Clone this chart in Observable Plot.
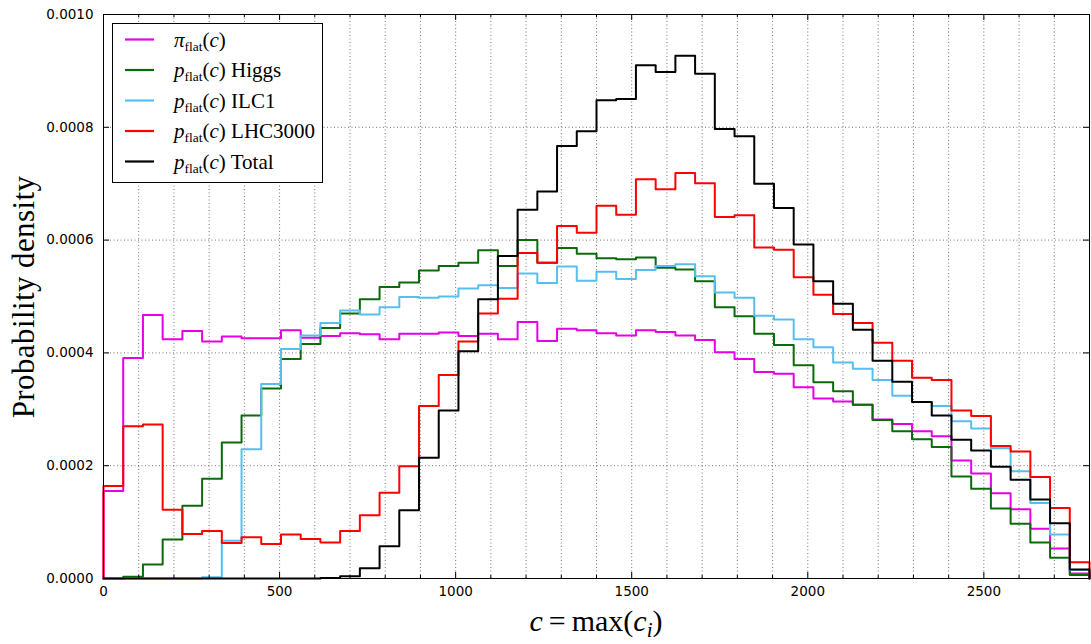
<!DOCTYPE html>
<html><head><meta charset="utf-8">
<script src="https://cdn.jsdelivr.net/npm/d3@7"></script>
<script src="https://cdn.jsdelivr.net/npm/@observablehq/plot@0.6"></script>
<style>body{margin:0;background:#fff} #chart svg{display:block}</style>
</head><body><div id="chart"></div>
<script>
// ---- data: 50 bins of width 56 over c = 0..2800 ----
const xMax = 2800;
const prior = [0.000155,0.000391,0.000467,0.000424,0.000439,0.000420,0.000429,0.000426,0.000426,0.000440,
  0.000427,0.000430,0.000435,0.000433,0.000424,0.000434,0.000434,0.000436,0.000430,0.000434,
  0.000424,0.000455,0.000421,0.000443,0.000440,0.000435,0.000431,0.000440,0.000437,0.000431,
  0.000423,0.000401,0.000389,0.000366,0.000363,0.000339,0.000319,0.000314,0.000308,0.000282,
  0.000274,0.000261,0.000252,0.000209,0.000186,0.000151,0.000123,0.000088,0.000053,0.000009];
const higgs = [0,0.000003,0.000025,0.000069,0.000129,0.000177,0.000241,0.000289,0.000337,0.000389,
  0.000416,0.000444,0.000470,0.000495,0.000517,0.000525,0.000546,0.000554,0.000560,0.000582,
  0.000554,0.000600,0.000560,0.000586,0.000576,0.000568,0.000566,0.000569,0.000551,0.000548,
  0.000527,0.000481,0.000465,0.000434,0.000414,0.000378,0.000348,0.000332,0.000308,0.000281,
  0.000261,0.000247,0.000233,0.000181,0.000159,0.000124,0.000097,0.000064,0.000037,0.000006];
const ilc1 = [0,0,0,0,0,0.000002,0.000067,0.000229,0.000345,0.000407,
  0.000431,0.000453,0.000475,0.000468,0.000481,0.000499,0.000498,0.000500,0.000514,0.000520,
  0.000515,0.000541,0.000524,0.000553,0.000528,0.000544,0.000531,0.000547,0.000554,0.000557,
  0.000536,0.000507,0.000498,0.000466,0.000459,0.000424,0.000410,0.000383,0.000372,0.000352,
  0.000324,0.000313,0.000306,0.000279,0.000266,0.000231,0.000190,0.000134,0.000078,0.000015];
const lhc3000 = [0.000164,0.000270,0.000273,0.000122,0.000079,0.000084,0.000063,0.000073,0.000061,0.000078,
  0.000070,0.000064,0.000084,0.000112,0.000152,0.000199,0.000306,0.000361,0.000420,0.000470,
  0.000496,0.000577,0.000560,0.000625,0.000613,0.000661,0.000645,0.000708,0.000690,0.000719,
  0.000701,0.000641,0.000644,0.000587,0.000583,0.000534,0.000503,0.000469,0.000453,0.000418,
  0.000386,0.000356,0.000352,0.000298,0.000288,0.000235,0.000225,0.000180,0.000125,0.000029];
const total = [0,0,0,0,0,0,0,0,0,0,
  0,0.000001,0.000004,0.000018,0.000057,0.000121,0.000214,0.000298,0.000403,0.000495,
  0.000572,0.000654,0.000686,0.000767,0.000793,0.000848,0.000850,0.000910,0.000898,0.000927,
  0.000895,0.000797,0.000784,0.000700,0.000657,0.000592,0.000527,0.000487,0.000441,0.000386,
  0.000349,0.000313,0.000289,0.000246,0.000227,0.000198,0.000175,0.000140,0.000098,0.000016];

const seriesValues = [prior, higgs, ilc1, lhc3000, total];
const seriesColors = ["#e600e6", "#0b6b0b", "#55c0f0", "#ff0000", "#000000"];
const seriesSymbols = ["π", "p", "p", "p", "p"];
const seriesSuffixes = ["", " Higgs", " ILC1", " LHC3000", " Total"];

const xMajorTicks = [0, 500, 1000, 1500, 2000, 2500];
const xMinorTicks = [100,200,300,400,600,700,800,900,1100,1200,1300,1400,1600,1700,1800,1900,2100,2200,2300,2400,2600,2700];
const xGridTicks = [100,200,300,400,500,600,700,800,900,1000,1100,1200,1300,1400,1500,1600,1700,1800,1900,2000,2100,2200,2300,2400,2500,2600,2700];
const yTicks = [0, 0.0002, 0.0004, 0.0006, 0.0008, 0.0010];
const yGridTicks = [0.0002, 0.0004, 0.0006, 0.0008];

// ---- layout ----
const W = 1091, H = 644, mL = 103, mR = 2, mT = 14, mB = 66;
const innerW = W - mL - mR, innerH = H - mT - mB;

function steps(values) {
  const w = xMax / values.length;
  const pts = [{x: 0, y: 0}];
  values.forEach((v, i) => pts.push({x: i * w, y: v}));
  pts.push({x: xMax, y: values[values.length - 1]});
  pts.push({x: xMax, y: 0});
  return pts;
}

const grid = {stroke: "#000", strokeOpacity: 0.55, strokeDasharray: "1,2.5", strokeWidth: 1};

const svg = Plot.plot({
  width: W, height: H,
  marginLeft: mL, marginRight: mR, marginTop: mT, marginBottom: mB,
  x: {domain: [0, xMax]},
  y: {domain: [0, 0.001]},
  style: {fontFamily: "'DejaVu Sans', sans-serif", fontSize: "13.5px", background: "#fff", color: "#000"},
  marks: [
    Plot.gridX(xGridTicks, grid),
    Plot.gridY(yGridTicks, grid),
    ...seriesValues.map((vals, i) =>
      Plot.line(steps(vals), {x: "x", y: "y", curve: "step-after", stroke: seriesColors[i], strokeWidth: 2})),
    Plot.frame({stroke: "#000", strokeWidth: 1}),
    Plot.tickX(xMajorTicks, {x: d => d, insetTop: innerH - 6, stroke: "#000"}),
    Plot.tickX(xMajorTicks, {x: d => d, insetBottom: innerH - 6, stroke: "#000"}),
    Plot.tickX(xMinorTicks, {x: d => d, insetTop: innerH - 3, stroke: "#000"}),
    Plot.tickX(xMinorTicks, {x: d => d, insetBottom: innerH - 3, stroke: "#000"}),
    Plot.tickY(yTicks, {y: d => d, insetRight: innerW - 6, stroke: "#000"}),
    Plot.tickY(yTicks, {y: d => d, insetLeft: innerW - 6, stroke: "#000"}),
    Plot.axisX(xMajorTicks, {tickSize: 0, tickPadding: 8, tickFormat: d => String(d), label: null}),
    Plot.axisY(yTicks, {tickSize: 0, tickPadding: 10, tickFormat: d => d.toFixed(4), label: null})
  ]
});

const root = d3.select(svg);
const serif = "'Liberation Serif', 'Times New Roman', serif";

// y label
root.append("text")
  .attr("transform", "translate(34,297) rotate(-90)")
  .attr("text-anchor", "middle")
  .attr("font-family", serif).attr("font-size", 31).attr("letter-spacing", 0.4)
  .attr("fill", "#000")
  .text("Probability density");

// x label: c = max(c_i)
const xl = root.append("text")
  .attr("x", 596).attr("y", 631)
  .attr("text-anchor", "middle")
  .attr("font-family", serif).attr("font-size", 30).attr("fill", "#000");
xl.append("tspan").attr("font-style", "italic").text("c");
xl.append("tspan").text("\u2009=\u2009max(");
xl.append("tspan").attr("font-style", "italic").text("c");
xl.append("tspan").attr("font-style", "italic").attr("font-size", 21).attr("dy", 6).text("i");
xl.append("tspan").attr("dy", -6).text(")");

// legend
const lg = root.append("g");
lg.append("rect").attr("x", 112.5).attr("y", 23.5).attr("width", 210).attr("height", 159)
  .attr("fill", "#fff").attr("stroke", "#000").attr("stroke-width", 1);
seriesValues.forEach((_, i) => {
  const cy = 39.5 + i * 30.5;
  lg.append("line").attr("x1", 125).attr("x2", 154).attr("y1", cy).attr("y2", cy)
    .attr("stroke", seriesColors[i]).attr("stroke-width", 2.2);
  const t = lg.append("text").attr("x", 174).attr("y", cy + 7)
    .attr("text-anchor", "start")
    .attr("font-family", serif).attr("font-size", 21).attr("fill", "#000");
  t.append("tspan").attr("font-style", "italic").text(seriesSymbols[i]);
  t.append("tspan").attr("font-size", 13.5).attr("dy", 4).text("flat");
  t.append("tspan").attr("dy", -4).text("(");
  t.append("tspan").attr("font-style", "italic").text("c");
  t.append("tspan").text(")" + seriesSuffixes[i]);
});

document.getElementById("chart").appendChild(svg);
</script>
</body></html>
